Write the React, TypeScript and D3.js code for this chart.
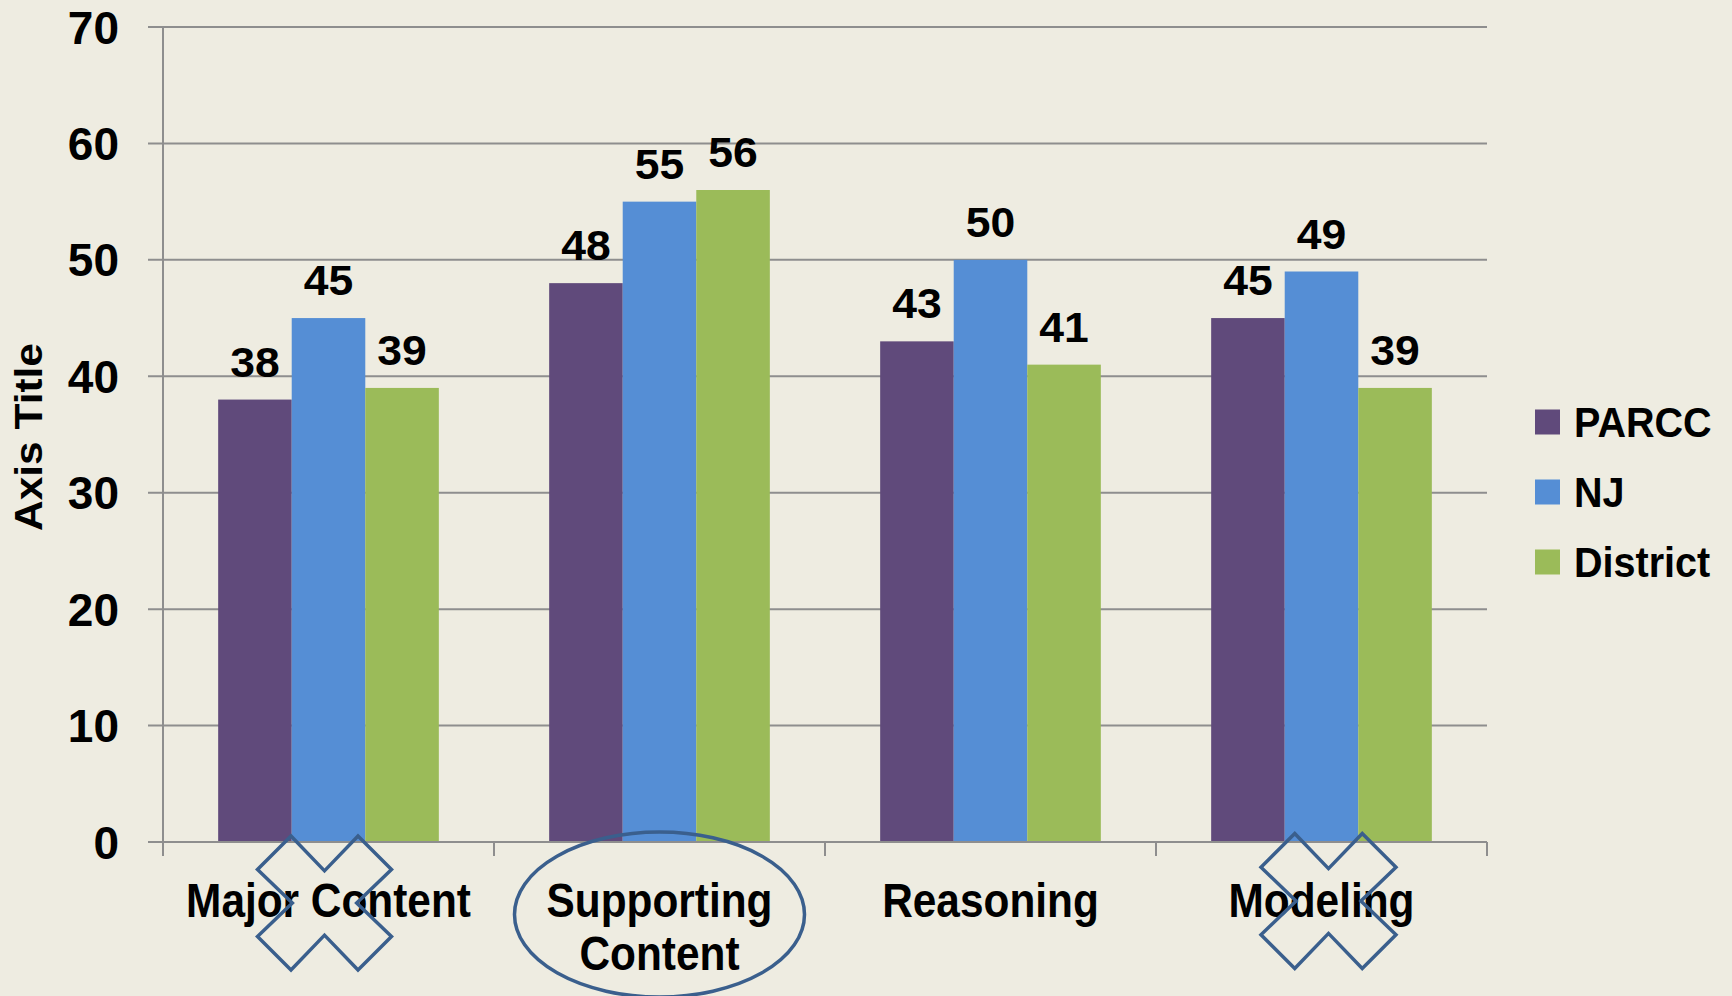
import React from "react";
import * as d3 from "d3";

const categories = ["Major Content", "Supporting Content", "Reasoning", "Modeling"];
const categoryLines = [["Major Content"], ["Supporting", "Content"], ["Reasoning"], ["Modeling"]];
const seriesNames = ["PARCC", "NJ", "District"];
const parccValues = [38, 48, 43, 45];
const njValues = [45, 55, 50, 49];
const districtValues = [39, 56, 41, 39];
const yTicks = [0, 10, 20, 30, 40, 50, 60, 70];
const seriesColors = ["#604a7b", "#558ed5", "#9bbb59"];

const W = 1732;
const H = 996;
const left = 163;
const right = 1487;
const top = 27;
const bottom = 842;
const BG = "#eeece1";
const GRID = "#8e8e8e";
const ANNOT = "#3a5f8d";
const NUM_FONT = "'Liberation Sans', Arial, sans-serif";

export default function App() {
  const values = [parccValues, njValues, districtValues];
  const x0 = d3.scaleBand<string>().domain(categories).range([left, right]).paddingInner(0).paddingOuter(0);
  const x1 = d3
    .scaleBand<string>()
    .domain(seriesNames)
    .range([0, x0.bandwidth()])
    .paddingInner(0)
    .paddingOuter(0.75);
  const y = d3.scaleLinear().domain([0, 70]).range([bottom, top]);

  const xShape = (cx: number, cy: number, s: number) => {
    const pts: [number, number][] = [
      [0.25, 0], [0.5, 0.26], [0.75, 0], [1, 0.25], [0.74, 0.5], [1, 0.75],
      [0.75, 1], [0.5, 0.74], [0.25, 1], [0, 0.75], [0.26, 0.5], [0, 0.25],
    ];
    return (
      d3.line()(pts.map(([a, b]) => [cx - s / 2 + a * s, cy - s / 2 + b * s] as [number, number])) + "Z"
    );
  };
  const catCenter = (i: number) => (x0(categories[i]) as number) + x0.bandwidth() / 2;

  const boundaries = [...categories.map((c) => x0(c) as number), right];

  return (
    <svg
      width={W}
      height={H}
      style={{ position: "absolute", left: 0, top: 0, display: "block" }}
      xmlns="http://www.w3.org/2000/svg"
    >
      <rect x={0} y={0} width={W} height={H} fill={BG} />

      {/* gridlines + left ticks */}
      {yTicks.map((t) => (
        <line key={"g" + t} x1={left - 15} x2={right} y1={y(t)} y2={y(t)} stroke={GRID} strokeWidth={2} />
      ))}
      {/* y axis */}
      <line x1={left} x2={left} y1={top} y2={bottom + 14} stroke={GRID} strokeWidth={2} />
      {/* x ticks */}
      {boundaries.slice(1).map((b, i) => (
        <line key={"xt" + i} x1={b} x2={b} y1={bottom} y2={bottom + 14} stroke={GRID} strokeWidth={2} />
      ))}

      {/* y tick labels */}
      {yTicks.map((t) => (
        <text
          key={"yl" + t}
          x={119}
          y={y(t) + 16.5}
          textAnchor="end"
          fontFamily={NUM_FONT}
          fontWeight="bold"
          fontSize={46}
          fill="#000"
        >
          {t}
        </text>
      ))}

      {/* bars */}
      {categories.map((c, i) => (
        <g key={c}>
          {seriesNames.map((s, j) => {
            const v = values[j][i];
            const bx = (x0(c) as number) + (x1(s) as number);
            return (
              <rect
                key={s}
                x={bx}
                y={y(v)}
                width={x1.bandwidth()}
                height={y(0) - y(v)}
                fill={seriesColors[j]}
              />
            );
          })}
        </g>
      ))}

      {/* axis line over bars */}
      <line x1={left - 15} x2={right} y1={bottom} y2={bottom} stroke={GRID} strokeWidth={2} />

      {/* data labels */}
      {categories.map((c, i) =>
        seriesNames.map((s, j) => {
          const v = values[j][i];
          const cx = (x0(c) as number) + (x1(s) as number) + x1.bandwidth() / 2;
          return (
            <text
              key={c + s}
              transform={`translate(${cx},${y(v) - 23}) scale(1.06,1)`}
              textAnchor="middle"
              fontFamily={NUM_FONT}
              fontWeight="bold"
              fontSize={42}
              fill="#000"
            >
              {v}
            </text>
          );
        })
      )}

      {/* category labels */}
      {categoryLines.map((lines, i) => (
        <g key={"cl" + i}>
          {lines.map((ln, k) => (
            <text
              key={k}
              transform={`translate(${catCenter(i)},${bottom + 75 + k * 53}) scale(0.865,1)`}
              textAnchor="middle"
              fontFamily={NUM_FONT}
              fontWeight="bold"
              fontSize={49}
              fill="#000"
            >
              {ln}
            </text>
          ))}
        </g>
      ))}

      {/* annotations */}
      <path d={xShape(catCenter(0) - 4, 903, 134)} fill="none" stroke={ANNOT} strokeWidth={3.5} strokeLinejoin="miter" />
      <path d={xShape(catCenter(3) + 7, 901, 135)} fill="none" stroke={ANNOT} strokeWidth={3.5} strokeLinejoin="miter" />
      <ellipse cx={catCenter(1)} cy={914.5} rx={145} ry={82.5} fill="none" stroke={ANNOT} strokeWidth={3.5} />

      {/* axis title */}
      <text
        transform="translate(42,437) rotate(-90)"
        textAnchor="middle"
        fontFamily={NUM_FONT}
        fontWeight="bold"
        fontSize={38}
        textLength={188}
        lengthAdjust="spacingAndGlyphs"
        fill="#000"
      >
        Axis Title
      </text>

      {/* legend */}
      {seriesNames.map((s, j) => {
        const cy = 422 + j * 70;
        return (
          <g key={"lg" + s}>
            <rect x={1535} y={cy - 12.5} width={25} height={25} fill={seriesColors[j]} />
            <text
              transform={`translate(1574,${cy + 15}) scale(0.92,1)`}
              fontFamily={NUM_FONT}
              fontWeight="bold"
              fontSize={43}
              fill="#000"
            >
              {s}
            </text>
          </g>
        );
      })}
    </svg>
  );
}
